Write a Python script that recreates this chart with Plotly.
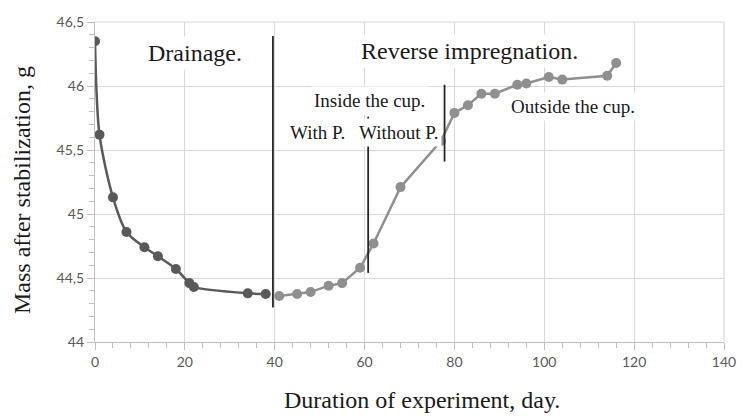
import plotly.graph_objects as go

# Drainage phase
drain_days = [0, 1, 4, 7, 11, 14, 18, 21, 22, 34, 38]
drain_mass = [46.35, 45.62, 45.13, 44.86, 44.74, 44.67, 44.57, 44.46, 44.43, 44.38, 44.375]

# Reverse impregnation phase
imp_days = [41, 45, 48, 52, 55, 59, 62, 68, 77, 80, 83, 86, 89, 94, 96, 101, 104, 114, 116]
imp_mass = [44.36, 44.375, 44.39, 44.44, 44.46, 44.58, 44.77, 45.21, 45.57, 45.79, 45.85,
            45.94, 45.94, 46.01, 46.02, 46.07, 46.05, 46.08, 46.18]

# Phase dividers: (day, y0, y1)
dividers = [(39.6, 44.27, 46.39), (60.8, 44.54, 45.76), (77.8, 45.41, 46.01)]

y_ticks = [44, 44.5, 45, 45.5, 46, 46.5]
y_tick_labels = ["44", "44,5", "45", "45,5", "46", "46,5"]
x_ticks = [0, 20, 40, 60, 80, 100, 120, 140]

serif = "Liberation Serif"
tick_font = dict(family="Lato", size=14, color="#595959")
grid = "#d9d9d9"

fig = go.Figure()
fig.add_trace(go.Scatter(
    x=drain_days, y=drain_mass, mode="lines+markers",
    line=dict(color="#595959", width=2.5, shape="spline", smoothing=0.8),
    marker=dict(color="#595959", size=10), showlegend=False))
fig.add_trace(go.Scatter(
    x=imp_days, y=imp_mass, mode="lines+markers",
    line=dict(color="#8f8f8f", width=2.5),
    marker=dict(color="#8f8f8f", size=10), showlegend=False))

# top and right border gridlines
fig.add_shape(type="line", xref="paper", yref="paper", x0=0, x1=1, y0=1, y1=1,
              line=dict(color=grid, width=1.2), layer="below")
fig.add_shape(type="line", xref="paper", yref="paper", x0=1, x1=1, y0=0, y1=1,
              line=dict(color=grid, width=1.2), layer="below")

for d, y0, y1 in dividers:
    fig.add_shape(type="line", xref="x", yref="y", x0=d, x1=d, y0=y0, y1=y1,
                  line=dict(color="#262626", width=1.8))

labels = [
    ("Drainage.", 22.3, 46.26, 24),
    ("Reverse impregnation.", 83.4, 46.27, 24),
    ("Inside the cup.", 61.1, 45.89, 19),
    ("With P.", 49.5, 45.64, 19),
    ("Without P.", 67.6, 45.64, 19),
    ("Outside the cup.", 106.3, 45.84, 19),
]
for txt, x, y, s in labels:
    fig.add_annotation(x=x, y=y, xref="x", yref="y", text=txt, showarrow=False,
                       font=dict(family=serif, size=s, color="#1a1a1a"),
                       bgcolor="white", borderpad=3)

fig.add_annotation(x=0.52, y=-0.181, xref="paper", yref="paper",
                   xanchor="center", yanchor="middle",
                   text="Duration of experiment, day.", showarrow=False,
                   font=dict(family=serif, size=24, color="#1a1a1a"))
fig.add_annotation(x=-0.116, y=0.475, xref="paper", yref="paper",
                   xanchor="center", yanchor="middle",
                   text="Mass after stabilization, g", showarrow=False, textangle=-90,
                   font=dict(family=serif, size=24, color="#1a1a1a"))

fig.update_layout(
    width=748, height=416,
    margin=dict(l=95, r=15, t=22, b=74),
    paper_bgcolor="white", plot_bgcolor="white",
    xaxis=dict(range=[0, 140], tickvals=x_ticks, showgrid=True, gridcolor=grid,
               gridwidth=1.2, zeroline=False, showline=True, linecolor="#bfbfbf",
               linewidth=1.2, ticks="outside", ticklen=7, tickcolor="#bfbfbf",
               tickfont=tick_font,
               minor=dict(dtick=4, ticks="outside", ticklen=5, tickcolor="#bfbfbf",
                          showgrid=False)),
    yaxis=dict(range=[44, 46.5], tickvals=y_ticks, ticktext=y_tick_labels, showgrid=True,
               gridcolor=grid, gridwidth=1.2, zeroline=False, showline=True,
               linecolor="#bfbfbf", linewidth=1.2, ticks="outside", ticklen=7,
               tickcolor="#bfbfbf", tickfont=tick_font,
               minor=dict(dtick=0.1, ticks="outside", ticklen=5, tickcolor="#bfbfbf",
                          showgrid=False)),
)

fig.write_html("out.html")
